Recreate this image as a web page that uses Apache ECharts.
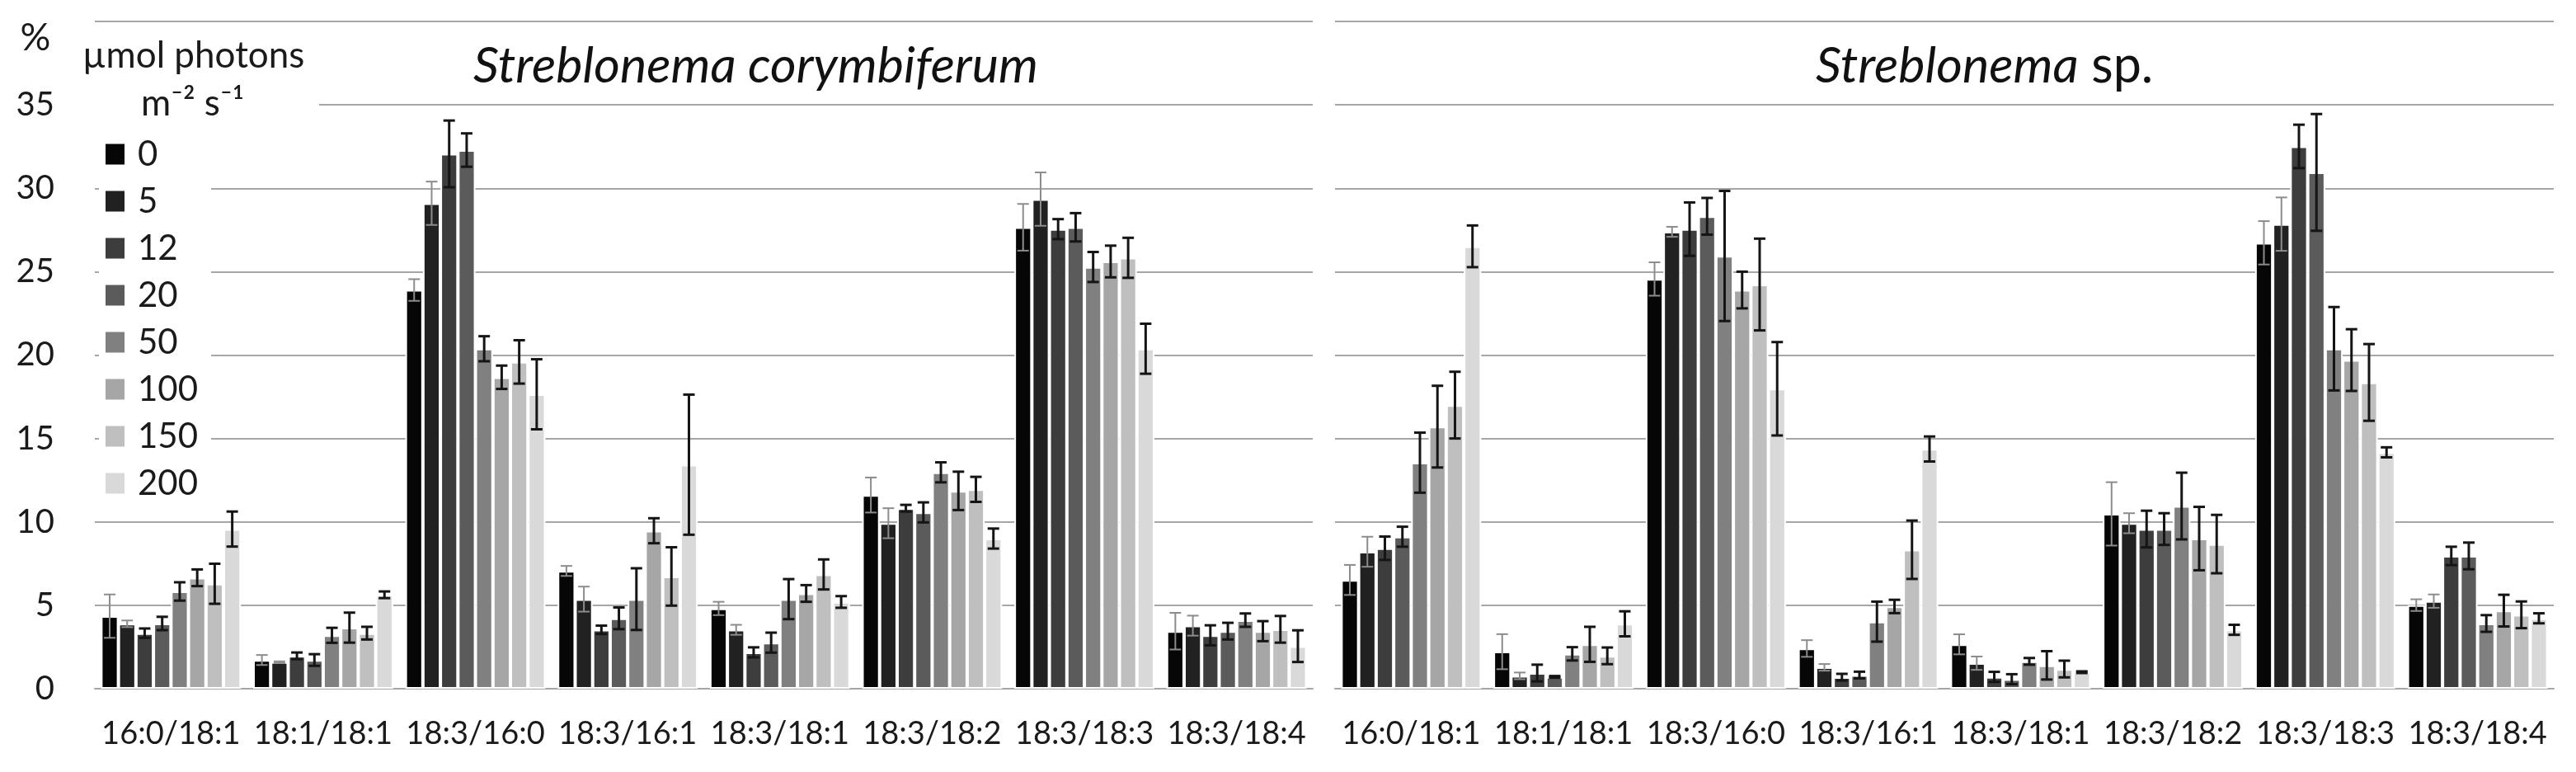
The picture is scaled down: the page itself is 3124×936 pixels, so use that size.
<!DOCTYPE html>
<html>
<head>
<meta charset="utf-8" />
<script src="https://cdn.jsdelivr.net/npm/echarts@6/dist/echarts.min.js"></script>
<style>
  html, body { margin: 0; padding: 0; background: #fff; }
  #main { width: 3124px; height: 936px; }
</style>
</head>
<body>
<div id="main"></div>
<script>
    var chartDom = document.getElementById('main');
    var myChart = echarts.init(chartDom);

    const categories = ['16:0/18:1', '18:1/18:1', '18:3/16:0', '18:3/16:1',
        '18:3/18:1', '18:3/18:2', '18:3/18:3', '18:3/18:4'];
    const lightLevels = ['0', '5', '12', '20', '50', '100', '150', '200'];
    const grays = ['#060606', '#202120', '#3d3d3d', '#5b5b5b', '#808080', '#a6a6a6', '#bfbfbf', '#d9d9d9'];

    // rows = fatty acid pair, columns = light level (0 ... 200)
    const coryMean = [
        [4.35, 3.89, 3.33, 3.91, 5.83, 6.65, 6.29, 9.57],
        [1.72, 1.59, 1.97, 1.72, 3.2, 3.66, 3.33, 5.63],
        [23.9, 29.1, 32.06, 32.29, 20.38, 18.67, 19.59, 17.65],
        [7.06, 5.37, 3.53, 4.22, 5.37, 9.47, 6.73, 13.43],
        [4.81, 3.53, 2.18, 2.76, 5.37, 5.71, 6.85, 5.2],
        [11.61, 9.92, 10.82, 10.57, 12.97, 11.86, 11.95, 9.0],
        [27.66, 29.35, 27.55, 27.66, 25.28, 25.61, 25.83, 20.38],
        [3.45, 3.78, 3.2, 3.45, 4.11, 3.45, 3.56, 2.55]
    ];
    const coryErr = [
        [1.3, 0.2, 0.28, 0.4, 0.55, 0.5, 1.2, 1.05],
        [0.3, 0.05, 0.2, 0.35, 0.45, 0.9, 0.38, 0.2],
        [0.65, 1.3, 2.0, 1.0, 0.75, 0.7, 1.3, 2.1],
        [0.3, 0.75, 0.25, 0.65, 1.85, 0.75, 1.75, 4.2],
        [0.4, 0.3, 0.3, 0.6, 1.2, 0.5, 0.9, 0.35],
        [1.05, 0.9, 0.2, 0.6, 0.6, 1.15, 0.75, 0.6],
        [1.4, 1.6, 0.6, 0.85, 0.9, 0.95, 1.2, 1.5],
        [1.1, 0.6, 0.6, 0.5, 0.4, 0.6, 0.8, 0.95]
    ];
    const spMean = [
        [6.52, 8.21, 8.42, 9.11, 13.55, 15.71, 17.0, 26.52],
        [2.22, 0.77, 0.94, 0.71, 2.09, 2.66, 1.97, 3.89],
        [24.56, 27.39, 27.55, 28.32, 25.94, 23.9, 24.23, 17.98],
        [2.41, 1.28, 0.69, 0.82, 4.02, 4.93, 8.33, 14.37],
        [2.66, 1.53, 0.71, 0.57, 1.64, 1.4, 1.18, 0.99],
        [10.48, 9.92, 9.57, 9.57, 10.95, 9.0, 8.67, 3.53],
        [26.73, 27.85, 32.51, 30.95, 20.38, 19.7, 18.36, 14.17],
        [5.01, 5.25, 7.96, 7.96, 3.91, 4.68, 4.43, 4.22]
    ];
    const spErr = [
        [0.9, 0.9, 0.7, 0.6, 1.8, 2.45, 2.0, 1.25],
        [1.05, 0.2, 0.5, 0.05, 0.4, 1.05, 0.5, 0.75],
        [1.0, 0.3, 1.6, 1.1, 3.9, 1.1, 2.75, 2.8],
        [0.5, 0.2, 0.2, 0.2, 1.2, 0.4, 1.75, 0.75],
        [0.6, 0.4, 0.3, 0.3, 0.2, 0.85, 0.5, 0.05],
        [1.9, 0.6, 1.1, 0.95, 2.0, 1.9, 1.75, 0.3],
        [1.3, 1.6, 1.3, 3.5, 2.5, 1.85, 2.3, 0.3],
        [0.35, 0.4, 0.55, 0.8, 0.5, 0.95, 0.8, 0.3]
    ];

    const FONT = 'Lato';
    const catGap = 0.08;

    // error bar drawn at the position of bar number j inside each group
    function makeErr(j) {
        return function(params, api) {
            var k = api.value(0);
            var mean = api.value(1);
            var err = api.value(2);
            var band = api.size([1, 0])[0];
            var group = band * (1 - catGap);
            var bw = group / lightLevels.length;
            var x = api.coord([k, mean])[0] - group / 2 + bw * (j + 0.5);
            var yHi = api.coord([k, mean + err])[1];
            var yLo = api.coord([k, mean - err])[1];
            var cap = 7;
            var style = {
                stroke: j < 2 ? '#8c8c8c' : '#151515',
                lineWidth: j < 2 ? 2 : 3
            };
            return {
                type: 'group',
                children: [
                    { type: 'line', shape: { x1: x, y1: yHi, x2: x, y2: yLo }, style: style },
                    { type: 'line', shape: { x1: x - cap, y1: yHi, x2: x + cap, y2: yHi }, style: style },
                    { type: 'line', shape: { x1: x - cap, y1: yLo, x2: x + cap, y2: yLo }, style: style }
                ]
            };
        };
    }

    var panels = [{ mean: coryMean, err: coryErr }, { mean: spMean, err: spErr }];
    var series = [];
    panels.forEach(function(p, pi) {
        lightLevels.forEach(function(lv, j) {
            series.push({
                type: 'bar',
                name: lv,
                xAxisIndex: pi,
                yAxisIndex: pi,
                data: p.mean.map(function(r) { return r[j]; }),
                barGap: '0%',
                barCategoryGap: (catGap * 100) + '%',
                itemStyle: { color: grays[j], borderColor: '#ffffff', borderWidth: 2 },
                z: 2
            });
        });
        lightLevels.forEach(function(lv, j) {
            series.push({
                type: 'custom',
                name: 'err' + lv,
                xAxisIndex: pi,
                yAxisIndex: pi,
                renderItem: makeErr(j),
                encode: { x: 0, y: 1 },
                data: p.mean.map(function(r, k) { return [k, r[j], p.err[k][j]]; }),
                silent: true,
                z: 3
            });
        });
    });

    function xAxisFor(gi) {
        return {
            gridIndex: gi,
            type: 'category',
            data: categories,
            axisTick: { show: false },
            axisLine: { lineStyle: { color: '#a6a6a6', width: 2 } },
            axisLabel: { interval: 0, fontFamily: FONT, fontSize: 38, lineHeight: 38, color: '#1a1a1a', margin: 36 }
        };
    }

    function yAxisFor(gi) {
        return {
            gridIndex: gi,
            type: 'value',
            min: 0,
            max: 40,
            interval: 5,
            axisLine: { show: false },
            axisTick: { show: false },
            splitLine: { lineStyle: { color: '#a6a6a6', width: 2 } },
            axisLabel: {
                show: gi === 0,
                fontFamily: FONT,
                fontSize: 40,
                color: '#1a1a1a',
                margin: 49,
                formatter: function(v) { return v === 40 ? '' : v; }
            }
        };
    }

    var option = {
        animation: false,
        backgroundColor: '#ffffff',
        grid: [
            { left: 115, top: 26, width: 1477, height: 809 },
            { left: 1619, top: 26, width: 1478, height: 809 }
        ],
        xAxis: [xAxisFor(0), xAxisFor(1)],
        yAxis: [yAxisFor(0), yAxisFor(1)],
        legend: {
            data: lightLevels,
            orient: 'vertical',
            left: 120,
            top: 158,
            padding: [8, 16, 8, 8],
            backgroundColor: '#ffffff',
            icon: 'rect',
            itemWidth: 23,
            itemHeight: 25,
            itemGap: 15,
            itemStyle: { borderWidth: 0 },
            textStyle: { fontFamily: FONT, fontSize: 42, color: '#1a1a1a', padding: [0, 0, 0, 11] },
            selectedMode: false
        },
        graphic: [
            { type: 'rect', z: 10, shape: { x: 110, y: 112, width: 277, height: 30 }, style: { fill: '#ffffff' } },
            { type: 'text', z: 11, style: { text: '%', x: 43, y: 46, fontFamily: FONT, fontSize: 46, fill: '#1a1a1a', textAlign: 'center', textVerticalAlign: 'middle' } },
            { type: 'text', z: 11, style: { text: 'µmol photons', x: 100, y: 68, fontFamily: FONT, fontSize: 44, fill: '#1a1a1a', textAlign: 'left', textVerticalAlign: 'middle' } },
            { type: 'text', z: 11, style: { text: 'm⁻² s⁻¹', x: 171, y: 126, fontFamily: FONT, fontSize: 44, fill: '#1a1a1a', textAlign: 'left', textVerticalAlign: 'middle' } },
            { type: 'text', z: 11, style: { text: 'Streblonema corymbiferum', x: 574, y: 80, fontFamily: FONT, fontStyle: 'italic', fontSize: 61, fill: '#111111', textAlign: 'left', textVerticalAlign: 'middle' } },
            { type: 'text', z: 11, style: {
                text: '{i|Streblonema}{n| sp.}', x: 2202, y: 80, fontFamily: FONT, fontSize: 61, fill: '#111111',
                textAlign: 'left', textVerticalAlign: 'middle',
                rich: {
                    i: { fontFamily: FONT, fontStyle: 'italic', fontSize: 61, fill: '#111111' },
                    n: { fontFamily: FONT, fontSize: 61, fill: '#111111' }
                }
            } }
        ],
        series: series
    };

    myChart.setOption(option);
</script>
</body>
</html>
